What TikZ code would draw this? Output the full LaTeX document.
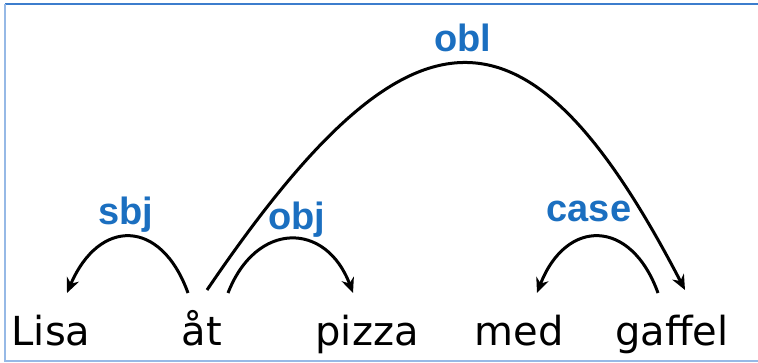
\documentclass[tikz,border=0pt]{standalone}
\usepackage{fontspec}
\setmainfont{DejaVu Sans}
\newfontfamily\labfont{Liberation Sans}
\usetikzlibrary{arrows.meta}
\definecolor{labblue}{RGB}{27,111,192}
\definecolor{frametop}{RGB}{60,125,205}
\definecolor{frameside}{RGB}{150,185,230}
\begin{document}
\begin{tikzpicture}[x=1pt,y=-1pt,
  word/.style={font=\fontsize{40}{40}\selectfont, anchor=base, inner xsep=0pt, inner ysep=0pt,
    text height=30pt, text depth=9pt, outer ysep=22pt},
  deplabel/.style={font=\labfont\bfseries\fontsize{38}{38}\selectfont, text=labblue, anchor=base, inner sep=0pt},
  arc/.style={line width=3pt, -{Stealth[length=15pt,width=13pt]}}]
\useasboundingbox (0,0) rectangle (758,363);
% frame
\coordinate (f1) at (5,4);
\coordinate (f2) at (758,4);
\coordinate (f3) at (5,361);
\coordinate (f4) at (758,361);
\draw[frametop, line width=2.2pt] (f1) -- (f2);
\draw[frameside, line width=1.5pt] (f1) -- (f3) -- (f4);
% words
\node[word] (lisa) at (51,345) {Lisa};
\node[word] (at) at (202,345) {åt};
\node[word] (pizza) at (367,345) {pizza};
\node[word] (med) at (519,345) {med};
\node[word] (gaffel) at (672,345) {gaffel};
% labels
\node[deplabel] (lobl) at (463,52) {obl};
\node[deplabel] (lsbj) at (126,225) {sbj};
\node[deplabel] (lobj) at (297,230) {obj};
\node[deplabel] (lcase) at (589,222) {case};
% arcs
\draw[arc] ([xshift=-14pt]at.north) .. controls (161,218) and (99,218) .. ([xshift=16pt]lisa.north);
\draw[arc] ([xshift=26pt]at.north) .. controls (256,221) and (326,221) .. ([xshift=-14pt]pizza.north);
\draw[arc] ([xshift=-14pt]gaffel.north) .. controls (631,218) and (566,218) .. ([xshift=18pt]med.north);
\draw[arc] ([xshift=5pt,yshift=3pt]at.north) .. controls (412,-12) and (528,-12) .. ([xshift=13pt,yshift=3pt]gaffel.north);
\end{tikzpicture}
\end{document}
